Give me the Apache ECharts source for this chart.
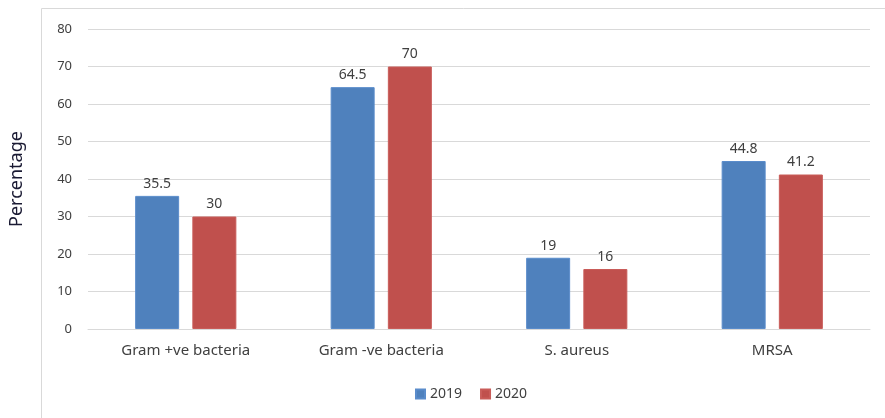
<!DOCTYPE html>
<html><head><meta charset="utf-8">
<script src="https://cdn.jsdelivr.net/npm/echarts@6/dist/echarts.min.js"></script>
<style>html,body{margin:0;padding:0;background:#fff}#c{width:885px;height:418px}</style>
</head><body><div id="c"></div>
<script>
const categories = ['Gram +ve bacteria', 'Gram -ve bacteria', 'S. aureus', 'MRSA'];
const values2019 = [35.5, 64.5, 19, 44.8];
const values2020 = [30, 70, 16, 41.2];
const seriesNames = ['2019', '2020'];

const chart = echarts.init(document.getElementById('c'));
const font = '"Noto Sans", sans-serif';
const lbl = {show: true, position: 'top', color: '#404040', fontSize: 14, fontFamily: font, distance: 5};
chart.setOption({
  animation: false,
  graphic: [{type: 'rect', shape: {x: 41.5, y: 8.5, width: 900, height: 500}, style: {fill: 'none', stroke: '#d9d9d9', lineWidth: 1}, silent: true}],
  grid: {left: 87, right: 15, top: 29, bottom: 89},
  legend: {
    data: seriesNames, left: 410, top: 382, itemWidth: 9, itemHeight: 9, itemGap: 18,
    icon: 'rect', textStyle: {color: '#404040', fontSize: 14, fontFamily: font}
  },
  xAxis: {
    type: 'category', data: categories,
    axisLine: {lineStyle: {color: '#d9d9d9'}}, axisTick: {show: false},
    axisLabel: {color: '#404040', fontSize: 15, fontFamily: font, margin: 14}
  },
  yAxis: {
    type: 'value', min: 0, max: 80, interval: 10,
    name: 'Percentage', nameLocation: 'middle', nameGap: 62, nameRotate: 90,
    nameTextStyle: {color: '#1a1a33', fontSize: 18, fontFamily: font},
    axisLine: {show: false}, axisTick: {show: false},
    axisLabel: {color: '#404040', fontSize: 13, fontFamily: font, margin: 16},
    splitLine: {lineStyle: {color: '#d9d9d9'}}
  },
  series: [
    {name: seriesNames[0], type: 'bar', data: values2019, barWidth: 44, barGap: '30%',
     itemStyle: {color: '#4F81BD', borderColor: '#5a8ccb', borderWidth: 1}, label: lbl},
    {name: seriesNames[1], type: 'bar', data: values2020, barWidth: 44,
     itemStyle: {color: '#C0504D', borderColor: '#c95c59', borderWidth: 1}, label: lbl}
  ]
});
</script></body></html>
